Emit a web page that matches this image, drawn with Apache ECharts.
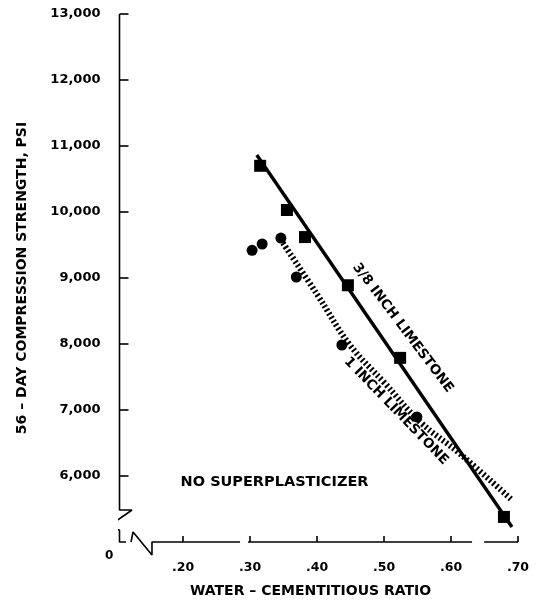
<!DOCTYPE html>
<html>
<head>
<meta charset="utf-8">
<style>html,body{margin:0;padding:0;background:#fff;}#c{width:538px;height:602px;}</style>
<script src="https://cdn.jsdelivr.net/npm/echarts@6/dist/echarts.min.js"></script>
</head>
<body>
<div id="c"></div>
<script>
// ---- data ----
const yTicks = [6000, 7000, 8000, 9000, 10000, 11000, 12000, 13000];
const xTicks = [0.2, 0.3, 0.4, 0.5, 0.6, 0.7];
const xTickLabels = ['.20', '.30', '.40', '.50', '.60', '.70'];

// 3/8 inch limestone (squares)
const squareX = [0.315, 0.355, 0.382, 0.446, 0.524, 0.679];
const squareY = [10700, 10030, 9620, 8890, 7790, 5380];
// 1 inch limestone (circles)
const circleX = [0.303, 0.318, 0.346, 0.369, 0.437, 0.549];
const circleY = [9420, 9515, 9605, 9015, 7985, 6895];

// fitted lines
const solidLineX = [0.310, 0.691];
const solidLineY = [10864, 5227];
const hatchLineX = [0.349, 0.400, 0.449, 0.500, 0.554, 0.613, 0.691];
const hatchLineY = [9530, 8752, 7985, 7418, 6818, 6340, 5636];

// axis line pieces with breaks (data coordinates)
const yAxisPieceX = [0.105, 0.105, 0.1237, 0.0848, 0.105, 0.105, 0.1147];
const yAxisPieceY = [13000, 5485, 5485, 5212, 5182, 5000, 5000];
const xAxisPiece1X = [0.1222, 0.1252, 0.1535, 0.1535, 0.285];
const xAxisPiece1Y = [5000, 5152, 4803, 5000, 5000];
const xAxisPiece2X = [0.297, 0.6314];
const xAxisPiece3X = [0.6494, 0.70];

// annotations
const noteText = ['3/8 INCH LIMESTONE', '1 INCH LIMESTONE', 'NO SUPERPLASTICIZER'];
const noteX = [0.528, 0.518, 0.3365];
const noteY = [8242, 6985, 5909];
const noteAngle = [-53, -46, 0];

const yTitle = '56 – DAY COMPRESSION STRENGTH, PSI';
const xTitle = 'WATER – CEMENTITIOUS RATIO';

// ---- chart ----
const zip = (a, b) => a.map((v, i) => [v, b[i]]);
const FONT = 'DejaVu Sans';
const INK = '#000';

const axisPiece = (x, y) => ({
  type: 'line', data: zip(x, y), symbol: 'none', clip: false, silent: true,
  lineStyle: { color: INK, width: 1.6 }, z: 1
});

const chart = echarts.init(document.getElementById('c'), null, { renderer: 'canvas' });
chart.setOption({
  backgroundColor: '#fff',
  animation: false,
  grid: { left: 119.5, right: 20, top: 14, bottom: 60, outerBoundsMode: 'none', containLabel: false },
  xAxis: {
    type: 'value', min: 0.105, max: 0.70,
    axisLine: { show: false },
    splitLine: { show: false },
    axisTick: { show: true, inside: true, length: 6, customValues: xTicks, lineStyle: { color: INK, width: 1.6 } },
    axisLabel: {
      customValues: xTicks, margin: 19,
      formatter: v => xTickLabels[xTicks.findIndex(t => Math.abs(t - v) < 1e-6)] || '',
      color: INK, fontFamily: FONT, fontWeight: 'bold', fontSize: 12.5
    }
  },
  yAxis: {
    type: 'value', min: 5000, max: 13000,
    axisLine: { show: false },
    splitLine: { show: false },
    axisTick: { show: true, inside: true, length: 9, customValues: yTicks, lineStyle: { color: INK, width: 1.6 } },
    axisLabel: {
      customValues: yTicks, margin: 19,
      formatter: v => v.toLocaleString('en-US'),
      color: INK, fontFamily: FONT, fontWeight: 'bold', fontSize: 13
    },
    name: yTitle, nameLocation: 'middle', nameGap: 90, nameRotate: 90,
    nameTextStyle: { color: INK, fontFamily: FONT, fontWeight: 'bold', fontSize: 14 }
  },
  graphic: [
    { type: 'text', left: 105, top: 550, style: { text: '0', fill: INK, font: 'bold 12px "DejaVu Sans"' } },
    { type: 'text', left: 190, top: 584, style: { text: xTitle, fill: INK, font: 'bold 14px "DejaVu Sans"' } }
  ],
  series: [
    axisPiece(yAxisPieceX, yAxisPieceY),
    axisPiece(xAxisPiece1X, xAxisPiece1Y),
    axisPiece(xAxisPiece2X, xAxisPiece2X.map(() => 5000)),
    axisPiece(xAxisPiece3X, xAxisPiece3X.map(() => 5000)),
    {
      name: '3/8 inch fit', type: 'line', data: zip(solidLineX, solidLineY), symbol: 'none',
      lineStyle: { color: INK, width: 3.4 }, z: 3
    },
    {
      name: '1 inch fit', type: 'line', data: zip(hatchLineX, hatchLineY), symbol: 'none', smooth: 0.4,
      lineStyle: { color: INK, width: 6, type: [2, 2.4], cap: 'butt' }, z: 3
    },
    {
      name: '3/8 INCH LIMESTONE', type: 'scatter', data: zip(squareX, squareY),
      symbol: 'rect', symbolSize: 12, itemStyle: { color: INK, opacity: 1 }, z: 4
    },
    {
      name: '1 INCH LIMESTONE', type: 'scatter', data: zip(circleX, circleY),
      symbol: 'circle', symbolSize: 11, itemStyle: { color: INK, opacity: 1 }, z: 4
    },
    {
      name: 'notes', type: 'scatter', symbolSize: 0, silent: true, z: 5,
      itemStyle: { opacity: 1, color: INK },
      data: noteText.map((t, i) => ({
        value: [noteX[i], noteY[i]],
        label: { show: true, formatter: t, rotate: noteAngle[i], position: 'inside',
          color: INK, opacity: 1, fontFamily: FONT, fontWeight: 'bold', fontSize: i === 2 ? 14.5 : 13.5 }
      }))
    }
  ]
});
</script>
</body>
</html>
